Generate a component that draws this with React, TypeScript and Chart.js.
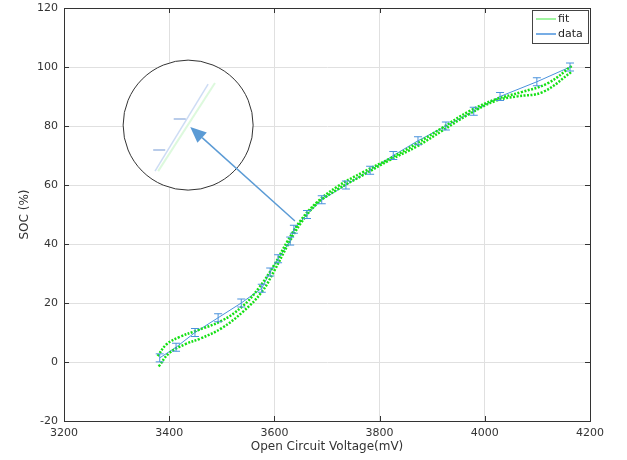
import React, { useEffect, useRef } from "react";
import { Chart, registerables } from "chart.js";

Chart.register(...registerables);

// Data series (Open circuit voltage mV, SOC %)
const dataX = [3382, 3413, 3449, 3493, 3537, 3576, 3592, 3607, 3630, 3637, 3662, 3690, 3736, 3782, 3826, 3873, 3926, 3979, 4029, 4099, 4162];
const dataY = [1.4, 5, 10, 15, 20, 25, 30.5, 35, 41, 45, 50, 55, 60, 65, 70, 75, 80, 85, 90, 95, 100];

// Fit curves (upper and lower branches)
const fitUpperX = [3378, 3395, 3420, 3450, 3500, 3540, 3570, 3600, 3625, 3650, 3680, 3720, 3770, 3820, 3870, 3920, 3970, 4020, 4070, 4120, 4166];
const fitUpperY = [2, 6, 8.5, 10.5, 14, 19, 25, 33, 41, 48, 54, 59.5, 64.5, 69, 74, 79.5, 85, 89, 91.5, 94.5, 100.5];
const fitLowerX = [3380, 3400, 3430, 3460, 3500, 3540, 3575, 3600, 3625, 3650, 3680, 3720, 3770, 3820, 3870, 3920, 3970, 4020, 4060, 4110, 4166];
const fitLowerY = [-1.5, 3, 6, 8, 11.5, 17, 23.5, 31, 39.5, 47, 53.5, 58.5, 63.5, 68.5, 73, 78.5, 84, 88.5, 90, 91.5, 98.5];

const xTicks = [3200, 3400, 3600, 3800, 4000, 4200];
const yTicks = [-20, 0, 20, 40, 60, 80, 100, 120];

// Annotation (magnifier circle + arrow) in data units
const circleCenter = { x: 3436, y: 80.3 };
const arrowFrom = { x: 3639, y: 47.8 };
const arrowTo = { x: 3440, y: 79.7 };
const zoomBlue = [{ x: 3373, y: 64.7 }, { x: 3474, y: 94.2 }];
const zoomGreen = [{ x: 3379, y: 64.7 }, { x: 3487, y: 94.6 }];
const zoomTicks = [{ x: 3381, y: 71.9 }, { x: 3420, y: 82.4 }];

const BLUE = "#4a92dc";
const GREEN = "#14e014";
const FONT = "'DejaVu Sans', Verdana, sans-serif";

const pts = (xs: number[], ys: number[]) => xs.map((x, i) => ({ x, y: ys[i] }));

const decorPlugin = {
  id: "decor",
  afterDatasetsDraw(chart: any) {
    const { ctx, chartArea: a, scales } = chart;
    const xs = scales.x;
    const ys = scales.y;
    ctx.save();
    // error bars on data
    ctx.strokeStyle = BLUE;
    ctx.lineWidth = 1;
    dataX.forEach((x, i) => {
      const px = xs.getPixelForValue(x);
      const py = ys.getPixelForValue(dataY[i]);
      ctx.beginPath();
      ctx.moveTo(px, py - 4);
      ctx.lineTo(px, py + 4);
      ctx.moveTo(px - 4, py - 4);
      ctx.lineTo(px + 4, py - 4);
      ctx.moveTo(px - 4, py + 4);
      ctx.lineTo(px + 4, py + 4);
      ctx.stroke();
    });
    // inner ticks
    ctx.strokeStyle = "#333";
    ctx.beginPath();
    xTicks.forEach((t) => {
      const px = Math.round(xs.getPixelForValue(t)) + 0.5;
      ctx.moveTo(px, a.bottom);
      ctx.lineTo(px, a.bottom - 5);
      ctx.moveTo(px, a.top);
      ctx.lineTo(px, a.top + 5);
    });
    yTicks.forEach((t) => {
      const py = Math.round(ys.getPixelForValue(t)) + 0.5;
      ctx.moveTo(a.left, py);
      ctx.lineTo(a.left + 5, py);
      ctx.moveTo(a.right, py);
      ctx.lineTo(a.right - 5, py);
    });
    ctx.stroke();
    // magnifier circle
    const cx = xs.getPixelForValue(circleCenter.x);
    const cy = ys.getPixelForValue(circleCenter.y);
    const r = 65;
    ctx.fillStyle = "#fff";
    ctx.beginPath();
    ctx.arc(cx, cy, r, 0, Math.PI * 2);
    ctx.fill();
    ctx.save();
    ctx.beginPath();
    ctx.arc(cx, cy, r - 1, 0, Math.PI * 2);
    ctx.clip();
    const seg = (p: any[], color: string, w: number) => {
      ctx.strokeStyle = color;
      ctx.lineWidth = w;
      ctx.beginPath();
      ctx.moveTo(xs.getPixelForValue(p[0].x), ys.getPixelForValue(p[0].y));
      ctx.lineTo(xs.getPixelForValue(p[1].x), ys.getPixelForValue(p[1].y));
      ctx.stroke();
    };
    seg(zoomGreen, "rgba(120,230,120,0.25)", 2);
    seg(zoomBlue, "rgba(90,140,220,0.3)", 1.5);
    ctx.strokeStyle = "rgba(70,120,200,0.5)";
    ctx.lineWidth = 1.5;
    zoomTicks.forEach((p) => {
      const px = xs.getPixelForValue(p.x);
      const py = ys.getPixelForValue(p.y);
      ctx.beginPath();
      ctx.moveTo(px - 6, py);
      ctx.lineTo(px + 6, py);
      ctx.stroke();
    });
    ctx.restore();
    ctx.strokeStyle = "#333";
    ctx.lineWidth = 1;
    ctx.beginPath();
    ctx.arc(cx, cy, r, 0, Math.PI * 2);
    ctx.stroke();
    // arrow
    const x1 = xs.getPixelForValue(arrowFrom.x);
    const y1 = ys.getPixelForValue(arrowFrom.y);
    const x2 = xs.getPixelForValue(arrowTo.x);
    const y2 = ys.getPixelForValue(arrowTo.y);
    const ang = Math.atan2(y2 - y1, x2 - x1);
    const hl = 16;
    const hw = 7;
    const bx = x2 - hl * Math.cos(ang);
    const by = y2 - hl * Math.sin(ang);
    ctx.strokeStyle = "#5b9bd5";
    ctx.lineWidth = 1.5;
    ctx.beginPath();
    ctx.moveTo(x1, y1);
    ctx.lineTo(bx, by);
    ctx.stroke();
    ctx.fillStyle = "#5b9bd5";
    ctx.beginPath();
    ctx.moveTo(x2, y2);
    ctx.lineTo(bx + hw * Math.sin(ang), by - hw * Math.cos(ang));
    ctx.lineTo(bx - hw * Math.sin(ang), by + hw * Math.cos(ang));
    ctx.closePath();
    ctx.fill();
    // legend
    const lx = a.right - 58;
    const ly = a.top + 2;
    const lw = 56;
    const lh = 33;
    ctx.fillStyle = "#fff";
    ctx.fillRect(lx, ly, lw, lh);
    ctx.strokeStyle = "#444";
    ctx.lineWidth = 1;
    ctx.strokeRect(lx + 0.5, ly + 0.5, lw, lh);
    ctx.font = `11px ${FONT}`;
    ctx.textBaseline = "middle";
    ctx.textAlign = "left";
    const items = [
      { label: "fit", color: "#80f080", y: ly + 9 },
      { label: "data", color: BLUE, y: ly + 24 },
    ];
    items.forEach((it) => {
      ctx.strokeStyle = it.color;
      ctx.lineWidth = 1.5;
      ctx.beginPath();
      ctx.moveTo(lx + 4, it.y);
      ctx.lineTo(lx + 24, it.y);
      ctx.stroke();
      ctx.fillStyle = "#222";
      ctx.fillText(it.label, lx + 26, it.y);
    });
    ctx.restore();
  },
};

export default function App() {
  const ref = useRef<HTMLCanvasElement>(null);
  useEffect(() => {
    document.body.style.margin = "0";
    const fitStyle = {
      borderColor: GREEN,
      borderWidth: 2.5,
      borderDash: [2, 1.5],
      pointRadius: 0,
      tension: 0.4,
      showLine: true,
      fill: false,
    };
    const chart = new Chart(ref.current!, {
      type: "scatter",
      data: {
        datasets: [
          { label: "fit", data: pts(fitUpperX, fitUpperY), ...fitStyle },
          { label: "fit2", data: pts(fitLowerX, fitLowerY), ...fitStyle },
          {
            label: "data",
            data: pts(dataX, dataY),
            borderColor: BLUE,
            borderWidth: 1,
            pointRadius: 0,
            showLine: true,
            tension: 0,
            fill: false,
          },
        ],
      },
      options: {
        responsive: false,
        animation: false,
        layout: { padding: { left: 0, right: 37, top: 8, bottom: 0 } },
        plugins: { legend: { display: false }, tooltip: { enabled: false } },
        scales: {
          x: {
            type: "linear",
            min: 3200,
            max: 4200,
            afterBuildTicks: (s: any) => {
              s.ticks = xTicks.map((v) => ({ value: v }));
            },
            afterFit: (s: any) => {
              s.height = 39;
              s.paddingLeft = 0;
              s.paddingRight = 0;
            },
            grid: { color: "#e0e0e0", drawTicks: false },
            border: { color: "#333", width: 1 },
            ticks: {
              color: "#333",
              font: { family: FONT, size: 11 },
              padding: 6,
              callback: (v: any) => String(v),
            },
            title: {
              display: true,
              text: "Open Circuit Voltage(mV)",
              color: "#333",
              font: { family: FONT, size: 12 },
              padding: { top: 0, bottom: 6 },
            },
          },
          y: {
            type: "linear",
            min: -20,
            max: 120,
            afterBuildTicks: (s: any) => {
              s.ticks = yTicks.map((v) => ({ value: v }));
            },
            afterFit: (s: any) => {
              s.width = 64;
              s.paddingTop = 0;
              s.paddingBottom = 0;
            },
            grid: { color: "#e0e0e0", drawTicks: false },
            border: { color: "#333", width: 1 },
            ticks: {
              color: "#333",
              font: { family: FONT, size: 11 },
              padding: 6,
              callback: (v: any) => String(v),
            },
            title: {
              display: true,
              text: "SOC (%)",
              color: "#333",
              font: { family: FONT, size: 12 },
              padding: { top: 18, bottom: 0 },
            },
          },
        },
      },
      plugins: [
        decorPlugin,
        {
          id: "frame",
          afterDraw(c: any) {
            const { ctx, chartArea: a } = c;
            ctx.save();
            ctx.strokeStyle = "#333";
            ctx.lineWidth = 1;
            ctx.strokeRect(Math.round(a.left) + 0.5, Math.round(a.top) + 0.5, Math.round(a.right - a.left), Math.round(a.bottom - a.top));
            ctx.restore();
          },
        },
      ],
    } as any);
    return () => chart.destroy();
  }, []);
  return <canvas ref={ref} width={627} height={460} style={{ display: "block" }} />;
}
